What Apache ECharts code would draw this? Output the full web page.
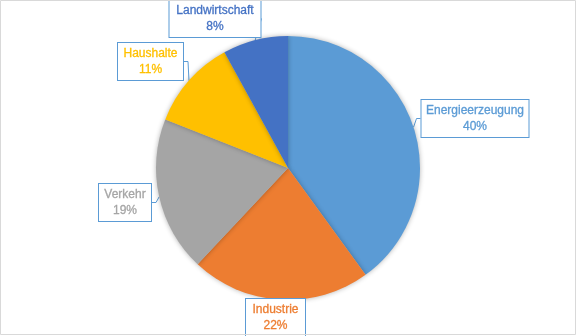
<!DOCTYPE html>
<html><head><meta charset="utf-8">
<script src="https://cdn.jsdelivr.net/npm/echarts@6/dist/echarts.min.js"></script>
<style>html,body{margin:0;padding:0;background:#fff}#c{width:576px;height:336px}</style>
</head><body><div id="c"></div>
<script>
const categories = ['Energieerzeugung', 'Industrie', 'Verkehr', 'Haushalte', 'Landwirtschaft'];
const shares = [40, 22, 19, 11, 8];
const colors = ['#5B9BD5', '#ED7D31', '#A5A5A5', '#FFC000', '#4472C4'];
// label box centers (layout only)
const labelCenters = [[475, 118.5], [275.5, 317.5], [125, 202.5], [150.5, 61.5], [215, 18.5]];
const labelWidths = [99, 51, 44, 57, 83];

const chart = echarts.init(document.getElementById('c'));
chart.setOption({
  animation: false,
  graphic: [{type: 'rect', shape: {x: 0.5, y: 0.5, width: 575, height: 334}, style: {fill: 'none', stroke: '#D9D9D9', lineWidth: 1}, z: 100}],
  series: [{
    type: 'pie',
    center: [288, 168],
    radius: [0, 132],
    startAngle: 90,
    clockwise: true,
    data: categories.map((n, i) => ({
      name: n, value: shares[i],
      itemStyle: {color: colors[i]},
      label: {color: colors[i], width: labelWidths[i]}
    })),
    itemStyle: {shadowBlur: 5, shadowColor: 'rgba(0,0,0,0.3)'},
    label: {
      show: true, position: 'outside',
      formatter: '{b}\n{c}%',
      fontFamily: 'Liberation Sans', fontWeight: 'normal', fontSize: 12, lineHeight: 16,
      textBorderColor: 'inherit', textBorderWidth: 0.3,
      align: 'center', overflow: 'none',
      backgroundColor: '#fff', borderColor: '#5B9BD5', borderWidth: 1,
      padding: [3, 4, 2, 4]
    },
    labelLine: {show: true, length: 4, length2: 4, lineStyle: {color: '#5B9BD5', width: 1}},
    labelLayout: function (p) {
      const c = labelCenters[p.dataIndex];
      return {x: c[0], y: c[1], align: 'center', verticalAlign: 'middle'};
    }
  }]
});
</script></body></html>
